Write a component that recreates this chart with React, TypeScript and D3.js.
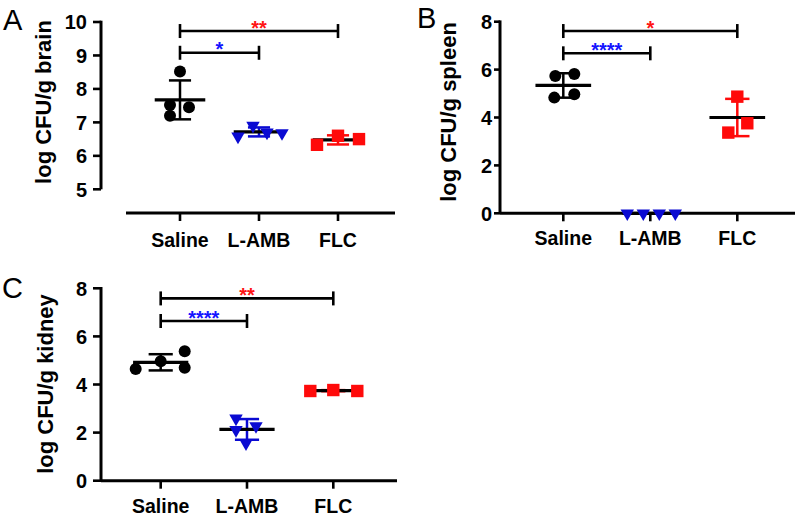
import React from "react";
import * as d3 from "d3";

// ---------- data ----------
const categories = ["Saline", "L-AMB", "FLC"];

const brainSaline = [8.52, 7.52, 7.45, 7.2];
const brainLAMB = [6.58, 6.9, 6.7, 6.68];
const brainFLC = [6.33, 6.6, 6.5];

const spleenSaline = [5.73, 5.82, 4.83, 4.97];
const spleenLAMB = [0, 0, 0, 0];
const spleenFLC = [3.37, 4.87, 3.76];

const kidneySaline = [4.64, 4.97, 5.38, 4.7];
const kidneyLAMB = [2.59, 2.11, 2.27, 1.56];
const kidneyFLC = [3.73, 3.77, 3.73];

const brainTicks = [5, 6, 7, 8, 9, 10];
const spleenTicks = [0, 2, 4, 6, 8];
const kidneyTicks = [0, 2, 4, 6, 8];

// significance comparisons (vs Saline): target group, bracket level (data units), label
const brainSig = [
  { to: "L-AMB", at: 9.08, label: "*" },
  { to: "FLC", at: 9.73, label: "**" },
];
const spleenSig = [
  { to: "L-AMB", at: 6.68, label: "****" },
  { to: "FLC", at: 7.61, label: "*" },
];
const kidneySig = [
  { to: "L-AMB", at: 6.64, label: "****" },
  { to: "FLC", at: 7.58, label: "**" },
];

// ---------- styling / layout ----------
const BLACK = "#000";
const BLUE = "#0a0ad2";
const RED = "#ff0a0a";
const groupColor: Record<string, string> = { Saline: BLACK, "L-AMB": BLUE, FLC: RED };
const sigColor: Record<string, string> = { "L-AMB": "#1414ff", FLC: "#ff1414" };
const groupShape: Record<string, string> = { Saline: "circle", "L-AMB": "triangle", FLC: "square" };
const FONT = "'Liberation Sans', Arial, Helvetica, sans-serif";

// horizontal scatter offsets (px) of the points inside each column
const brainJitter = [[0, -10, 9, -10], [-21, -6, 8, 23], [-21, 0, 21]];
const spleenJitter = [[-8, 11, -9, 11], [-23, -7, 9, 25], [-9, 0, 10]];
const kidneyJitter = [[-25, 0, 24, 24], [-11, -11, 9, -1], [-23, 0, 24]];

type PanelCfg = {
  letter: string;
  letterX: number;
  letterY: number;
  title: string;
  titleX: number;
  titleY: number;
  yAxisX: number;
  yRange: [number, number];
  yDomain: [number, number];
  ticks: number[];
  tickLen: number;
  tickGap: number;
  xAxisY: number;
  xAxisRange: [number, number];
  xPoints: [number, number];
  catY: number;
  groups: number[][];
  jitter: number[][];
  sig: { to: string; at: number; label: string }[];
};

const panels: PanelCfg[] = [
  {
    letter: "A", letterX: 3, letterY: 30,
    title: "log CFU/g brain", titleX: 51, titleY: 102,
    yAxisX: 101, yRange: [189.3, 22], yDomain: [5, 10], ticks: brainTicks, tickLen: 8, tickGap: 6,
    xAxisY: 213, xAxisRange: [126, 395], xPoints: [180, 338], catY: 246.5,
    groups: [brainSaline, brainLAMB, brainFLC], jitter: brainJitter, sig: brainSig,
  },
  {
    letter: "B", letterX: 417, letterY: 28,
    title: "log CFU/g spleen", titleX: 456, titleY: 112,
    yAxisX: 500, yRange: [213.3, 21.7], yDomain: [0, 8], ticks: spleenTicks, tickLen: 6, tickGap: 2,
    xAxisY: 213.3, xAxisRange: [500, 795], xPoints: [563.3, 737.3], catY: 245,
    groups: [spleenSaline, spleenLAMB, spleenFLC], jitter: spleenJitter, sig: spleenSig,
  },
  {
    letter: "C", letterX: 2, letterY: 298,
    title: "log CFU/g kidney", titleX: 53, titleY: 384,
    yAxisX: 101, yRange: [480.7, 288.3], yDomain: [0, 8], ticks: kidneyTicks, tickLen: 8, tickGap: 6,
    xAxisY: 480.7, xAxisRange: [101, 397], xPoints: [160.7, 333.3], catY: 513,
    groups: [kidneySaline, kidneyLAMB, kidneyFLC], jitter: kidneyJitter, sig: kidneySig,
  },
];

function Marker({ shape, x, y, color }: { shape: string; x: number; y: number; color: string }) {
  if (shape === "circle") return <circle cx={x} cy={y} r={6} fill={color} />;
  if (shape === "square") return <rect x={x - 6.2} y={y - 6.2} width={12.4} height={12.4} fill={color} />;
  const sym = d3.symbol().type(d3.symbolTriangle).size(78)();
  return <path d={sym || ""} transform={`translate(${x},${y}) rotate(180)`} fill={color} />;
}

function Panel({ p }: { p: PanelCfg }) {
  const y = d3.scaleLinear().domain(p.yDomain).range(p.yRange);
  const x = d3.scalePoint<string>().domain(categories).range(p.xPoints);
  const step = x.step();
  const meanHalf = step * 0.32;
  const capHalf = step * 0.14;
  const sx = x("Saline") as number;

  return (
    <g>
      <text x={p.letterX} y={p.letterY} fontFamily={FONT} fontSize={29} fill="#000">
        {p.letter}
      </text>
      {/* y axis */}
      <line x1={p.yAxisX} x2={p.yAxisX} y1={y(p.yDomain[0])} y2={y(p.yDomain[1]) - 1.3} stroke={BLACK} strokeWidth={3} />
      {p.ticks.map((t) => (
        <g key={t}>
          <line x1={p.yAxisX - p.tickLen} x2={p.yAxisX} y1={y(t)} y2={y(t)} stroke={BLACK} strokeWidth={2.6} />
          <text
            x={p.yAxisX - p.tickLen - p.tickGap}
            y={y(t)}
            dy="0.36em"
            textAnchor="end"
            fontFamily={FONT}
            fontWeight="bold"
            fontSize={20}
          >
            {t}
          </text>
        </g>
      ))}
      <text
        transform={`translate(${p.titleX},${p.titleY}) rotate(-90)`}
        textAnchor="middle"
        fontFamily={FONT}
        fontWeight="bold"
        fontSize={22}
      >
        {p.title}
      </text>
      {/* x axis */}
      <line x1={p.xAxisRange[0]} x2={p.xAxisRange[1]} y1={p.xAxisY} y2={p.xAxisY} stroke={BLACK} strokeWidth={3} />
      {categories.map((c) => (
        <g key={c}>
          <line x1={x(c)} x2={x(c)} y1={p.xAxisY} y2={p.xAxisY + 8} stroke={BLACK} strokeWidth={2.6} />
          <text x={x(c)} y={p.catY} textAnchor="middle" fontFamily={FONT} fontWeight="bold" fontSize={19.5}>
            {c}
          </text>
        </g>
      ))}
      {/* significance brackets */}
      {p.sig.map((s) => {
        const x2 = x(s.to) as number;
        const yy = y(s.at);
        return (
          <g key={s.to}>
            <line x1={sx} x2={x2} y1={yy} y2={yy} stroke={BLACK} strokeWidth={2.6} />
            <line x1={sx} x2={sx} y1={yy - 7} y2={yy + 7} stroke={BLACK} strokeWidth={2.6} />
            <line x1={x2} x2={x2} y1={yy - 7} y2={yy + 7} stroke={BLACK} strokeWidth={2.6} />
            <text
              x={(sx + x2) / 2}
              y={yy + 3.5}
              textAnchor="middle"
              fontFamily={FONT}
              fontWeight="bold"
              fontSize={20}
              fill={sigColor[s.to]}
            >
              {s.label}
            </text>
          </g>
        );
      })}
      {/* groups */}
      {categories.map((c, gi) => {
        const vals = p.groups[gi];
        const m = d3.mean(vals) as number;
        const sd = d3.deviation(vals) || 0;
        const cx = x(c) as number;
        const col = groupColor[c];
        return (
          <g key={c}>
            <line x1={cx} x2={cx} y1={y(m + sd)} y2={y(m - sd)} stroke={col} strokeWidth={2.5} />
            <line x1={cx - capHalf} x2={cx + capHalf} y1={y(m + sd)} y2={y(m + sd)} stroke={col} strokeWidth={2.5} />
            <line x1={cx - capHalf} x2={cx + capHalf} y1={y(m - sd)} y2={y(m - sd)} stroke={col} strokeWidth={2.5} />
            <line x1={cx - meanHalf} x2={cx + meanHalf} y1={y(m)} y2={y(m)} stroke={BLACK} strokeWidth={3.2} />
            {vals.map((v, i) => (
              <Marker key={i} shape={groupShape[c]} x={cx + p.jitter[gi][i]} y={y(v)} color={col} />
            ))}
          </g>
        );
      })}
    </g>
  );
}

export default function App() {
  return (
    <svg
      width={800}
      height={516}
      viewBox="0 0 800 516"
      style={{ position: "absolute", left: 0, top: 0, background: "#fff" }}
    >
      <rect width={800} height={516} fill="#fff" />
      {panels.map((p) => (
        <Panel key={p.letter} p={p} />
      ))}
    </svg>
  );
}
